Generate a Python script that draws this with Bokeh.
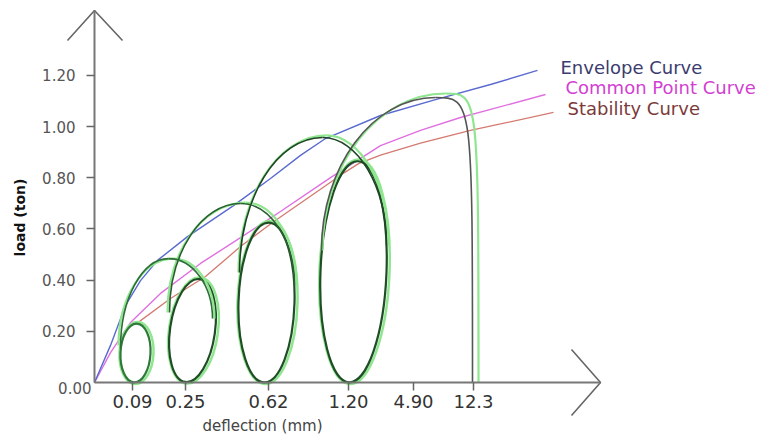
import numpy as np
from bokeh.plotting import figure
from bokeh.models import Range1d, LinearAxis, FixedTicker, NumeralTickFormatter
from bokeh.core.properties import value
from bokeh.embed import file_html
from bokeh.resources import INLINE

# ---------------- data (schematic deflection position, load in ton) ----------------
defl_labels = ["0.09", "0.25", "0.62", "1.20", "4.90", "12.3"]
defl_pos = [38, 91, 174, 254, 319, 379]
load_ticks = [0.2, 0.4, 0.6, 0.8, 1.0, 1.2]

env_x = [0, 16, 31, 46, 63, 93, 139, 176, 206, 231, 286, 341, 396, 443]
env_load = [0, 0.145, 0.301, 0.398, 0.477, 0.570, 0.691, 0.797, 0.887, 0.953, 1.043, 1.105, 1.164, 1.219]

cp_x = [0, 16, 36, 66, 106, 146, 186, 236, 286, 326, 366, 451]
cp_load = [0, 0.117, 0.234, 0.348, 0.465, 0.566, 0.668, 0.80, 0.925, 0.985, 1.035, 1.125]

st_x = [41, 76, 111, 146, 178, 226, 250, 264, 286, 326, 376, 406, 459]
st_load = [0.227, 0.328, 0.414, 0.531, 0.625, 0.755, 0.82, 0.855, 0.888, 0.935, 0.985, 1.01, 1.055]

# stable cycles (ellipses)
ell_x = [41, 98, 172, 259]
ell_load = [0.115, 0.203, 0.3125, 0.4325]
ell_w = [30, 45, 56, 66]
ell_h = [0.23, 0.406, 0.625, 0.865]
ell_tilt = [-0.05, -0.14, -0.03, -0.04]

# loading arches (dark trace): start, peak, end
arch_sx = [26, 75, 145, 227]
arch_sl = [0.133, 0.273, 0.43, 0.516]
arch_px = [74, 146, 228, 341]
arch_pl = [0.484, 0.699, 0.957, 1.113]
arch_ex = [118, 200, 292, 378]
arch_el = [0.25, 0.379, 0.535, 0.0]

# loading arches (light green trace)
g_sx = [24, 73, 144, 228]
g_sl = [0.145, 0.273, 0.43, 0.516]
g_px = [79, 151, 232, 351]
g_pl = [0.484, 0.703, 0.965, 1.129]
g_ex = [120, 202, 294, 384]
g_el = [0.25, 0.379, 0.535, 0.0]

legend_text = ["Envelope Curve", "Common Point Curve", "Stability Curve"]

# ---------------- figure ----------------
PX_PER_TON = 256.0
p = figure(width=764, height=436,
           x_range=Range1d(-94, 670), y_range=Range1d(-54 / PX_PER_TON, 382 / PX_PER_TON),
           output_backend="svg", toolbar_location=None, min_border=0,
           x_axis_type=None, y_axis_type=None)
p.outline_line_color = None
p.xgrid.visible = False
p.ygrid.visible = False
p.background_fill_color = "white"

y_tip = 372 / PX_PER_TON
x_tip = 506

yaxis = LinearAxis(fixed_location=0, ticker=FixedTicker(ticks=load_ticks),
                   formatter=NumeralTickFormatter(format="0.00"), bounds=(0, y_tip))
yaxis.axis_line_color = "#777777"
yaxis.axis_line_width = 2
yaxis.major_tick_line_color = "#666666"
yaxis.major_tick_line_width = 1.5
yaxis.major_tick_out = 8
yaxis.major_tick_in = 0
yaxis.minor_tick_out = 0
yaxis.major_label_standoff = 11
yaxis.major_label_text_font = "DejaVu Sans"
yaxis.major_label_text_font_size = "15px"
yaxis.major_label_text_color = "#555555"
p.add_layout(yaxis, "left")

xaxis = LinearAxis(fixed_location=0, ticker=FixedTicker(ticks=defl_pos), bounds=(0, x_tip))
xaxis.major_label_overrides = {pos: lab for pos, lab in zip(defl_pos, defl_labels)}
xaxis.axis_line_color = "#777777"
xaxis.axis_line_width = 2
xaxis.major_tick_line_color = "#666666"
xaxis.major_tick_line_width = 1.5
xaxis.major_tick_out = 8
xaxis.major_tick_in = 0
xaxis.minor_tick_out = 0
xaxis.major_label_standoff = 4
xaxis.major_label_text_font = "DejaVu Sans"
xaxis.major_label_text_font_size = "18px"
xaxis.major_label_text_color = "#333333"
p.add_layout(xaxis, "below")

# arrow heads
p.line([-27, 0, 28], [y_tip - 30 / PX_PER_TON, y_tip, y_tip - 30 / PX_PER_TON],
       line_color="#666666", line_width=1.6)
p.line([x_tip - 29, x_tip, x_tip - 29], [33 / PX_PER_TON, 0, -33 / PX_PER_TON],
       line_color="#666666", line_width=1.6)

# reference curves
p.line(cp_x, cp_load, line_color="#e070e0", line_width=1.4)
p.line(st_x, st_load, line_color="#d47a70", line_width=1.3)
p.line(env_x, env_load, line_color="#5a6ad0", line_width=1.4)

# ellipses
ex = np.array(ell_x, float)
p.ellipse(ex + 1, ell_load, width=np.array(ell_w) + 4, height=np.array(ell_h) + 0.012,
          angle=ell_tilt, fill_color=None, line_color="#8fe68f", line_width=2.5)
p.ellipse(ell_x, ell_load, width=ell_w, height=ell_h, angle=ell_tilt,
          fill_color=None, line_color=["#2f7a3a", "#1f4d26", "#1f4d26", "#1f4d26"], line_width=2.2)


def arch_segments(sx, sl, px_, pl, ex_, el, k=0.55):
    sx, sl, px_, pl, ex_, el = map(lambda a: np.array(a, float), (sx, sl, px_, pl, ex_, el))
    rise = dict(x0=sx, y0=sl, x1=px_, y1=pl,
                cx0=sx, cy0=sl + k * (pl - sl), cx1=px_ - k * (px_ - sx), cy1=pl)
    fx0 = px_ + k * (ex_ - px_)
    fy1 = el + k * (pl - el)
    # last (failure) loop: sharp shoulder then a near-vertical drop
    fx0[-1] = ex_[-1]
    fy1[-1] = pl[-1]
    fall = dict(x0=px_, y0=pl, x1=ex_, y1=el, cx0=fx0, cy0=pl, cx1=ex_, cy1=fy1)
    return rise, fall


g_rise, g_fall = arch_segments(g_sx, g_sl, g_px, g_pl, g_ex, g_el)
p.bezier(**g_rise, line_color="#8fe68f", line_width=2.2)
p.bezier(**g_fall, line_color="#8fe68f", line_width=2.2)

d_rise, d_fall = arch_segments(arch_sx, arch_sl, arch_px, arch_pl, arch_ex, arch_el)
dark_cols = ["#2f6e38", "#2a5e31", "#1f4426", "#555555"]
p.bezier(**d_rise, line_color=dark_cols, line_width=1.6)
p.bezier(**d_fall, line_color=dark_cols, line_width=1.6)

# legend-like labels
p.text(x=[466, 471, 473], y=[315 / PX_PER_TON, 295 / PX_PER_TON, 274 / PX_PER_TON], text=legend_text,
       text_color=["#3c3c6e", "#d23fd2", "#7b3a3a"], text_font=value("DejaVu Sans"),
       text_font_size=value("18px"), text_baseline="middle", text_align="left")

# axis titles and origin label
p.text(x=[168], y=[-43 / PX_PER_TON], text=["deflection (mm)"], text_color="#444444",
       text_font=value("DejaVu Sans"), text_font_size=value("15px"),
       text_baseline="middle", text_align="center")
p.text(x=[-75], y=[165 / PX_PER_TON], text=["load (ton)"], angle=np.pi / 2, text_color="#111111",
       text_font=value("DejaVu Sans"), text_font_size=value("14px"), text_font_style="bold",
       text_baseline="middle", text_align="center")
p.text(x=[-3], y=[-5 / PX_PER_TON], text=["0.00"], text_color="#555555",
       text_font=value("DejaVu Sans"), text_font_size=value("15px"),
       text_baseline="middle", text_align="right")

open("out.html", "w").write(file_html(p, INLINE))
